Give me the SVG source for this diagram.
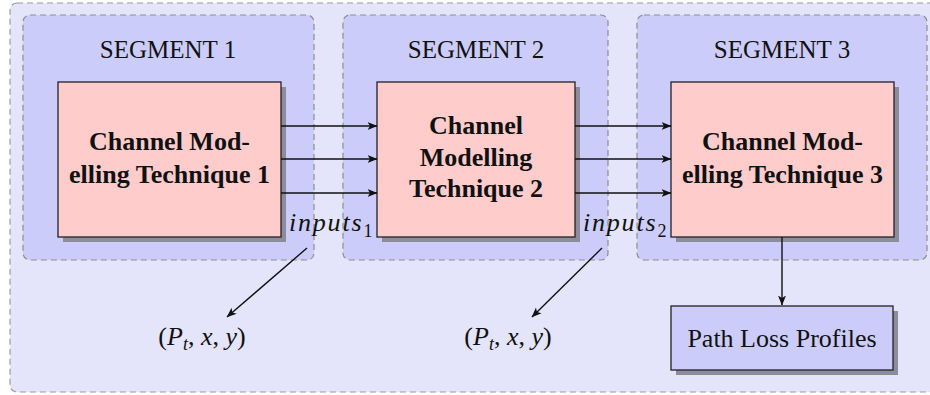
<svg xmlns="http://www.w3.org/2000/svg" width="930" height="395" viewBox="0 0 930 395">
<style>
.outer{fill:#e4e4fb;stroke:#9a9a9a;stroke-width:1.2;stroke-dasharray:6 4}
.seg{fill:#ccccfb;stroke:#8e8e8e;stroke-width:1.2;stroke-dasharray:6 4}
.shadow{fill:#8c8c9c}
.box{fill:#ffcccc;stroke:#222;stroke-width:1.3}
.pbox{fill:#ccccfb;stroke:#222;stroke-width:1.3}
.title{font-family:"Liberation Serif",serif;font-size:25px;fill:#111;text-anchor:middle}
.plp{font-family:"Liberation Serif",serif;font-size:26px;fill:#111;text-anchor:middle}
.bold{font-family:"Liberation Serif",serif;font-size:26px;font-weight:bold;fill:#111;text-anchor:middle}
.math{font-family:"Liberation Serif",serif;font-size:26px;fill:#111}
.conn line{stroke:#111;stroke-width:1.4;marker-end:url(#ah)}
</style>
<defs>
<marker id="ah" viewBox="0 0 10 10" refX="9.5" refY="5" markerWidth="10" markerHeight="10" markerUnits="userSpaceOnUse" orient="auto">
<path d="M0,1 L10,5 L0,9 L2.5,5 Z" fill="#111"/>
</marker>
</defs>
<rect class="outer" x="10" y="3" width="940" height="389" rx="7"/>
<g id="segment1">
<rect class="seg" x="23" y="15" width="291" height="245" rx="7"/>
<text class="title" x="168" y="58">SEGMENT 1</text>
</g>
<g id="segment2">
<rect class="seg" x="343" y="15" width="265" height="245" rx="7"/>
<text class="title" x="476" y="58">SEGMENT 2</text>
</g>
<g id="segment3">
<rect class="seg" x="637" y="15" width="290" height="245" rx="7"/>
<text class="title" x="782" y="58">SEGMENT 3</text>
</g>
<g id="cmt1">
<rect class="shadow" x="63" y="87" width="223" height="155"/>
<rect class="box" x="58" y="82" width="223" height="155"/>
<text class="bold" x="169.5" y="150">Channel Mod-</text>
<text class="bold" x="169.5" y="183">elling Technique 1</text>
</g>
<g id="cmt2">
<rect class="shadow" x="382" y="87" width="198" height="155"/>
<rect class="box" x="377" y="82" width="198" height="155"/>
<text class="bold" x="476" y="134">Channel</text>
<text class="bold" x="476" y="166">Modelling</text>
<text class="bold" x="476" y="197">Technique 2</text>
</g>
<g id="cmt3">
<rect class="shadow" x="676" y="87" width="223" height="155"/>
<rect class="box" x="671" y="82" width="223" height="155"/>
<text class="bold" x="782.5" y="150">Channel Mod-</text>
<text class="bold" x="782.5" y="183">elling Technique 3</text>
</g>
<g id="inputs1">
<text class="math" x="289" y="231"><tspan font-style="italic" letter-spacing="1.8">inputs</tspan><tspan font-size="18" dy="6">1</tspan></text>
</g>
<g id="inputs2">
<text class="math" x="583" y="231"><tspan font-style="italic" letter-spacing="1.8">inputs</tspan><tspan font-size="18" dy="6">2</tspan></text>
</g>
<g id="params1">
<text class="math" x="202" y="345" text-anchor="middle">(<tspan font-style="italic">P</tspan><tspan font-style="italic" font-size="18" dy="5">t</tspan><tspan dy="-5">,  </tspan><tspan font-style="italic">x</tspan>,  <tspan font-style="italic">y</tspan>)</text>
</g>
<g id="params2">
<text class="math" x="508" y="345" text-anchor="middle">(<tspan font-style="italic">P</tspan><tspan font-style="italic" font-size="18" dy="5">t</tspan><tspan dy="-5">,  </tspan><tspan font-style="italic">x</tspan>,  <tspan font-style="italic">y</tspan>)</text>
</g>
<g id="pathloss">
<rect class="shadow" x="676" y="311" width="222" height="64"/>
<rect class="pbox" x="671" y="306" width="222" height="64"/>
<text class="plp" x="782" y="347">Path Loss Profiles</text>
</g>
<g id="connectors" class="conn">
<line x1="281" y1="126" x2="377" y2="126"/>
<line x1="281" y1="159" x2="377" y2="159"/>
<line x1="281" y1="193" x2="377" y2="193"/>
<line x1="575" y1="126" x2="671" y2="126"/>
<line x1="575" y1="159" x2="671" y2="159"/>
<line x1="575" y1="193" x2="671" y2="193"/>
<line x1="307" y1="248" x2="227" y2="317"/>
<line x1="602" y1="248" x2="532" y2="317"/>
<line x1="782" y1="237" x2="782" y2="305"/>
</g>
</svg>
